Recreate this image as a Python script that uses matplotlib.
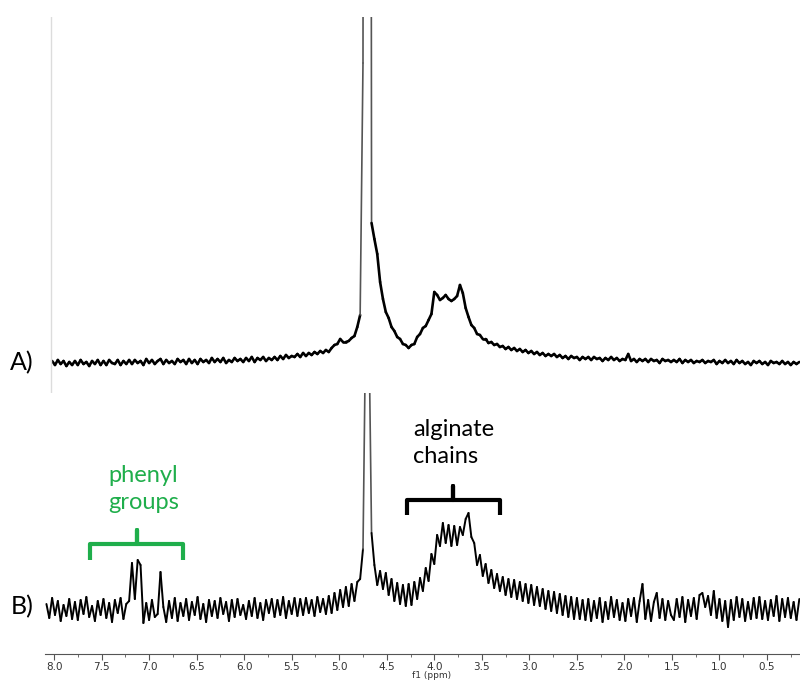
"""
1H NMR spectra A) and B) with annotated regions
"""

import numpy as np
import matplotlib.pyplot as plt
from matplotlib.collections import LineCollection
from matplotlib.ticker import MultipleLocator, FormatStrFormatter

# chemical shift grid: one sample every 0.03 ppm from 8.08 down to 0.16
ppm_start = 8.08
ppm_step = 0.03

# spectrum A intensities (arbitrary units, baseline = 0), rows of 10 samples
int_a = [
    1, -3, 2, -2, 3, -1, 2, -3, 1, -2,          # 8.08 - 7.81
    2, -2, 3, -1, 1, -3, 2, -1, 3, -2,          # 7.78 - 7.51
    2, -2, 3, 0, -1, 3, -2, 2, -1, 3,           # 7.48 - 7.21
    -1, 3, 0, 2, -2, 4, 0, 3, -1, 2,            # 7.18 - 6.91
    4, -1, 3, 0, 2, -1, 4, 1, 3, -1,            # 6.88 - 6.61
    4, 0, 3, -1, 4, 1, 3, 0, 5, 1,              # 6.58 - 6.31
    4, 1, 5, 0, 3, 1, 5, 2, 4, 1,               # 6.28 - 6.01
    5, 2, 6, 1, 5, 3, 6, 2, 5, 3,               # 5.98 - 5.71
    6, 3, 7, 4, 8, 5, 7, 6, 9, 6,               # 5.68 - 5.41
    10, 7, 10, 8, 11, 9, 12, 10, 13, 11,        # 5.38 - 5.11
    15, 18, 19, 24, 21, 21, 22, 25, 27, 36,     # 5.08 - 4.81
    48, 300, 3000, 3000, 140, 124, 109, 81, 64, 51,  # 4.78 - 4.51
    45, 36, 32, 26, 24, 19, 18, 15, 18, 19,     # 4.48 - 4.21
    26, 29, 35, 37, 43, 49, 71, 68, 63, 65,     # 4.18 - 3.91
    68, 64, 62, 64, 67, 78, 70, 55, 46, 38,     # 3.88 - 3.61
    35, 29, 28, 24, 24, 20, 21, 18, 19, 16,     # 3.58 - 3.31
    17, 14, 16, 13, 15, 12, 14, 11, 13, 10,     # 3.28 - 3.01
    12, 9, 11, 8, 10, 7, 9, 7, 9, 6,            # 2.98 - 2.71
    8, 5, 7, 4, 7, 5, 6, 3, 6, 4,               # 2.68 - 2.41
    6, 3, 6, 4, 5, 2, 5, 3, 6, 3,               # 2.38 - 2.11
    5, 2, 4, 3, 9, 2, 4, 1, 4, 2,               # 2.08 - 1.81
    4, 1, 4, 2, 3, 0, 4, 2, 3, 1,               # 1.78 - 1.51
    3, 1, 4, 0, 3, 1, 3, 0, 2, 1,               # 1.48 - 1.21
    3, 0, 2, 1, 3, -1, 2, 0, 3, 0,              # 1.18 - 0.91
    2, -1, 3, 0, 2, -1, 1, -2, 2, 0,            # 0.88 - 0.61
    2, -1, 1, -2, 2, 0, 1, -1, 2, -1,           # 0.58 - 0.31
    1, -2, 1, -1, 1,                            # 0.28 - 0.16
]

# spectrum B intensities (arbitrary units, baseline = 0)
int_b = [
    5, -9, 11, -6, 8, -12, 4, -7, 10, -10,      # 8.08 - 7.81
    7, -11, 9, -5, 12, -8, 3, -12, 8, -6,       # 7.78 - 7.51
    10, -9, 6, -13, 9, -4, 11, -10, 5, 8,       # 7.48 - 7.21
    46, 10, 49, 44, -14, 6, -11, 9, -8, -5,     # 7.18 - 6.91
    37, 2, -13, 8, -9, 11, -12, 6, -7, 10,      # 6.88 - 6.61
    -11, 7, -6, 12, -10, 5, -13, 9, -7, 8,      # 6.58 - 6.31
    -9, 11, -5, 7, -12, 9, -8, 10, -6, 4,       # 6.28 - 6.01
    -10, 8, -7, 11, -9, 6, -11, 9, -4, 10,      # 5.98 - 5.71
    -8, 9, -6, 12, -9, 8, -5, 11, -7, 10,       # 5.68 - 5.41
    -6, 11, -4, 9, -7, 12, -3, 10, -5, 13,      # 5.38 - 5.11
    -4, 16, -1, 19, 2, 22, 3, 25, 8, 27,        # 5.08 - 4.81
    30, 60, 300, 300, 76, 44, 24, 38, 20, 36,   # 4.78 - 4.51
    14, 30, 8, 26, 5, 24, 3, 25, 4, 27,         # 4.48 - 4.21
    10, 31, 18, 41, 28, 55, 45, 74, 63, 86,     # 4.18 - 3.91
    66, 84, 63, 83, 64, 82, 74, 90, 96, 72,     # 3.88 - 3.61
    66, 44, 54, 33, 45, 26, 39, 21, 35, 18,     # 3.58 - 3.31
    32, 14, 30, 12, 29, 10, 27, 8, 25, 6,       # 3.28 - 3.01
    24, 4, 22, 3, 20, 0, 18, -2, 17, -4,        # 2.98 - 2.71
    15, -6, 13, -8, 12, -10, 11, -10, 9, -11,   # 2.68 - 2.41
    10, -12, 8, -9, 11, -13, 7, -10, 12, -8,    # 2.38 - 2.11
    9, -11, 6, -12, 10, -7, 11, -13, 8, 25,     # 2.08 - 1.81
    -10, 9, -12, 7, 16, -9, 10, -11, 8, -6,     # 1.78 - 1.51
    -11, 10, -8, 12, -13, 9, -7, 11, -10, 14,   # 1.48 - 1.21
    16, 2, 13, -6, 18, -9, 10, -12, 8, -18,     # 1.18 - 0.91
    9, -11, 12, -8, 10, -12, 7, -10, 11, -9,    # 0.88 - 0.61
    12, -10, 8, -11, 9, -7, 13, -12, 10, -8,    # 0.58 - 0.31
    11, -9, 7, -11, 10,                         # 0.28 - 0.16
]

ppm = ppm_start - ppm_step * np.arange(len(int_a))

# annotated regions (ppm ranges)
phenyl_range = (7.62, 6.64)
alginate_range = (4.29, 3.31)

text_font = ["Lato", "DejaVu Sans"]
green = "#1fae4b"
xlim = (8.095, 0.153)


def draw_trace(ax, x, y, lw):
    # thick for the noisy baseline, thin grey for the steep solvent-peak flanks
    y = np.asarray(y, dtype=float)
    pts = np.column_stack([x, y])
    segs = np.stack([pts[:-1], pts[1:]], axis=1)
    steep = np.abs(np.diff(y)) > 150
    widths = np.where(steep, 1.2, lw)
    colors = ["#555555" if s else "black" for s in steep]
    lc = LineCollection(segs, linewidths=widths, colors=colors,
                        capstyle="round", joinstyle="round")
    ax.add_collection(lc)


fig = plt.figure(figsize=(8, 6.81), dpi=100)

# top spectrum (A), starts at the faint frame line near 8.03 ppm
ax_a = fig.add_axes([45 / 800, 1 - 393 / 681, 755 / 800, 376 / 681])
keep = ppm <= 8.035
draw_trace(ax_a, ppm[keep], np.asarray(int_a)[keep], 1.9)
ax_a.axvline(8.032, color="#dcdcdc", lw=1)
ax_a.set_xlim(*xlim)
ax_a.set_ylim(-30, 346)
ax_a.axis("off")

# bottom spectrum (B) with the ppm axis
ax_b = fig.add_axes([45 / 800, 1 - 654 / 681, 755 / 800, 261 / 681])
draw_trace(ax_b, ppm, int_b, 1.4)
ax_b.set_xlim(*xlim)
ax_b.set_ylim(-45, 216)
for side in ["top", "left", "right"]:
    ax_b.spines[side].set_visible(False)
ax_b.spines["bottom"].set_color("#555555")
ax_b.set_yticks([])
ax_b.xaxis.set_major_locator(MultipleLocator(0.5))
ax_b.xaxis.set_minor_locator(MultipleLocator(0.25))
ax_b.xaxis.set_major_formatter(FormatStrFormatter("%.1f"))
ax_b.tick_params(axis="x", which="major", length=4, pad=2, labelsize=7.5,
                 color="#555555", labelcolor="#333333")
ax_b.tick_params(axis="x", which="minor", length=2.5, color="#555555")


def brace(ax, x0, x1, y, drop, rise, color):
    xc = (x0 + x1) / 2
    ax.plot([x0, x0, xc, xc, xc, x1, x1],
            [y - drop, y, y, y + rise, y, y, y - drop],
            color=color, lw=3, solid_joinstyle="round", solid_capstyle="butt",
            clip_on=False)


brace(ax_b, phenyl_range[0], phenyl_range[1], 65, 16, 14, green)
brace(ax_b, alginate_range[0], alginate_range[1], 109, 15, 14, "black")

ax_b.text(7.43, 120, "phenyl\ngroups", color=green, fontsize=17,
          family=text_font, ha="left", va="center", linespacing=1.3)
ax_b.text(4.225, 166, "alginate\nchains", color="black", fontsize=17,
          family=text_font, ha="left", va="center", linespacing=1.3)

fig.text(22 / 800, 1 - 363 / 681, "A)", fontsize=18, family=text_font,
         ha="center", va="center")
fig.text(22 / 800, 1 - 607 / 681, "B)", fontsize=18, family=text_font,
         ha="center", va="center")
fig.text(432 / 800, 1 - 675.5 / 681, "f1 (ppm)", fontsize=6.5, color="#333333",
         ha="center", va="center")

fig.savefig("out.png", dpi=100)
